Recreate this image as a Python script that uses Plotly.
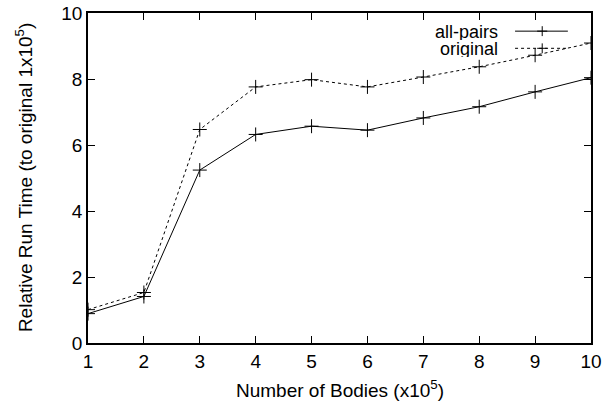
import plotly.graph_objects as go

bodies = [1, 2, 3, 4, 5, 6, 7, 8, 9, 10]
all_pairs = [0.89, 1.41, 5.24, 6.32, 6.57, 6.45, 6.82, 7.16, 7.61, 8.04]
original = [1.01, 1.53, 6.47, 7.76, 7.98, 7.76, 8.06, 8.37, 8.72, 9.09]
series_names = ["all-pairs", "original"]
x_ticks = [1, 2, 3, 4, 5, 6, 7, 8, 9, 10]
y_ticks = [0, 2, 4, 6, 8, 10]

FONT = "Liberation Sans, Arial, sans-serif"
FS = 19

fig = go.Figure()
fig.add_trace(go.Scatter(
    x=bodies, y=all_pairs, mode="lines+markers", name=series_names[0],
    line=dict(color="black", width=1),
    marker=dict(symbol="cross-thin", size=10, line=dict(color="black", width=1)),
    showlegend=False,
))
fig.add_trace(go.Scatter(
    x=bodies, y=original, mode="lines+markers", name=series_names[1],
    line=dict(color="black", width=1, dash="3px,3px"),
    marker=dict(symbol="cross-thin", size=10, line=dict(color="black", width=1)),
    showlegend=False,
))

# manual gnuplot-style legend (text right-aligned, sample to its right)
legend_rows = [(series_names[0], "solid", 0.945), (series_names[1], "3px,3px", 0.893)]
for name, dash, yp in legend_rows:
    fig.add_annotation(xref="paper", yref="paper", x=0.818, y=yp, text=name,
                       showarrow=False, xanchor="right", yanchor="middle",
                       height=17, borderpad=0,
                       font=dict(family=FONT, size=18, color="black"))
    fig.add_shape(type="line", xref="paper", yref="paper", x0=0.849, x1=0.954,
                  y0=yp, y1=yp, line=dict(color="black", width=1, dash=dash))
    fig.add_shape(type="line", xref="paper", yref="paper", x0=0.903, x1=0.903,
                  y0=yp - 0.015, y1=yp + 0.015, line=dict(color="black", width=1))
    fig.add_shape(type="line", xref="paper", yref="paper", x0=0.893, x1=0.913,
                  y0=yp, y1=yp, line=dict(color="black", width=1))

# axis titles
fig.add_annotation(xref="paper", yref="paper", x=0.5, y=-0.14,
                   text="Number of Bodies (x10<sup>5</sup>)", showarrow=False,
                   xanchor="center", yanchor="middle",
                   font=dict(family=FONT, size=FS, color="black"))
fig.add_annotation(xref="paper", yref="paper", x=-0.127, y=0.5,
                   text="Relative Run Time (to original 1x10<sup>5</sup>)", showarrow=False,
                   textangle=-90, xanchor="center", yanchor="middle",
                   font=dict(family=FONT, size=FS, color="black"))

axis_common = dict(
    showline=True, linecolor="black", linewidth=1.5, mirror="ticks",
    ticks="inside", ticklen=7, tickwidth=1, tickcolor="black",
    showgrid=False, zeroline=False, automargin=False,
    tickfont=dict(family=FONT, size=FS, color="black"),
)

fig.update_layout(
    width=613, height=410,
    margin=dict(l=88, r=22, t=13, b=67),
    plot_bgcolor="white", paper_bgcolor="white",
    font=dict(family=FONT, size=FS, color="black"),
    xaxis=dict(range=[1, 10], tickvals=x_ticks, **axis_common),
    yaxis=dict(range=[0, 10], tickvals=y_ticks, **axis_common),
)

fig.write_html("out.html", config={"displayModeBar": False},
               post_script="document.body.style.margin='0';document.body.style.padding='0';")
